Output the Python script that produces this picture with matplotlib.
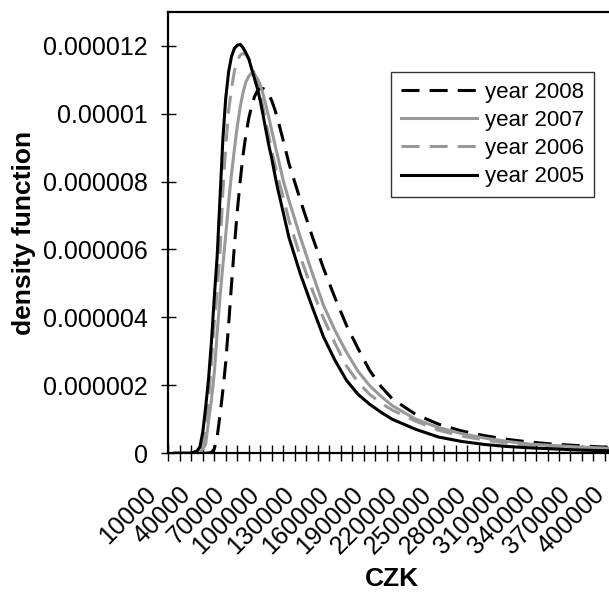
import matplotlib.pyplot as plt
import matplotlib.transforms as mtransforms
import numpy as np

plt.rcParams['font.family'] = ['Liberation Sans', 'DejaVu Sans']

# income (CZK) where the densities were read
czk = [10000, 20000, 25000,
       30000, 32500, 35000, 37500, 40000, 42500, 45000, 47500, 50000, 52500,
       55000, 57500, 60000, 62500, 65000, 67500, 70000, 72500, 75000, 77500,
       80000, 82500, 85000, 87500, 90000, 92500, 95000, 97500, 100000,
       105000, 110000,
       120000, 130000, 140000, 150000, 160000, 170000, 180000, 190000, 200000,
       220000, 240000, 260000, 280000, 300000, 320000, 340000, 360000, 380000,
       400000]

# density values (x 1e-6)
dens_2005 = [0, 0, 0.005,
             0.07, 0.19, 0.63, 1.36, 2.19, 3.27, 4.60, 5.80, 7.54, 9.27,
             10.47, 11.24, 11.68, 11.92, 12.01, 12.04, 11.94, 11.79, 11.61, 11.32,
             11.03, 10.74, 10.38, 9.95, 9.50, 9.06, 8.68, 8.24, 7.82,
             7.09, 6.35,
             5.27, 4.33, 3.43, 2.74, 2.15, 1.74, 1.45, 1.21, 1.00,
             0.71, 0.48, 0.35, 0.26, 0.20, 0.16, 0.13, 0.10, 0.08,
             0.07]
dens_2006 = [0, 0, 0,
             0.02, 0.07, 0.24, 0.69, 1.57, 2.69, 3.85, 4.80, 5.94, 7.74,
             9.06, 10.10, 10.74, 11.25, 11.55, 11.72, 11.77, 11.74, 11.62, 11.42,
             11.15, 10.88, 10.56, 10.17, 9.74, 9.33, 8.91, 8.54, 8.18,
             7.53, 6.86,
             5.77, 4.83, 3.98, 3.24, 2.57, 2.10, 1.74, 1.48, 1.27,
             0.95, 0.68, 0.51, 0.39, 0.30, 0.24, 0.20, 0.17, 0.14,
             0.12]
dens_2007 = [0, 0, 0,
             0.01, 0.04, 0.13, 0.27, 0.95, 1.57, 2.37, 3.54, 4.60, 5.55,
             6.44, 7.40, 8.23, 8.95, 9.62, 10.18, 10.62, 10.93, 11.10, 11.19,
             11.15, 11.03, 10.85, 10.57, 10.23, 9.88, 9.50, 9.13, 8.77,
             8.03, 7.44,
             6.35, 5.33, 4.36, 3.62, 2.98, 2.42, 2.00, 1.68, 1.40,
             1.01, 0.76, 0.58, 0.45, 0.35, 0.27, 0.23, 0.19, 0.16,
             0.13]
dens_2008 = [0, 0, 0,
             0, 0, 0, 0, 0.01, 0.02, 0.13, 0.48, 1.13, 1.86,
             2.69, 3.80, 4.98, 6.10, 7.12, 8.00, 8.77, 9.38, 9.86, 10.22,
             10.50, 10.67, 10.74, 10.74, 10.68, 10.55, 10.38, 10.14, 9.86,
             9.21, 8.53,
             7.44, 6.41, 5.45, 4.58, 3.77, 3.09, 2.45, 1.97, 1.60,
             1.15, 0.86, 0.66, 0.52, 0.41, 0.33, 0.27, 0.23, 0.19,
             0.16]

x_labels = list(range(10000, 400001, 30000))
y_ticks = [0, 0.000002, 0.000004, 0.000006, 0.000008, 0.00001, 0.000012]
y_ticklabels = ['0', '0.000002', '0.000004', '0.000006', '0.000008', '0.00001', '0.000012']

gray = '#999999'

fig = plt.figure(figsize=(6.09, 5.97), dpi=100)
ax = fig.add_axes([0.2764, 0.2407, 0.7547, 0.7397])

x = np.array(czk)
lw = 2.2
ax.plot(x, np.array(dens_2008) * 1e-6, color='black', lw=lw, dashes=(5.9, 3.3), label='year 2008')
ax.plot(x, np.array(dens_2007) * 1e-6, color=gray, lw=lw, label='year 2007')
ax.plot(x, np.array(dens_2006) * 1e-6, color=gray, lw=lw, dashes=(5.9, 3.3), label='year 2006')
ax.plot(x, np.array(dens_2005) * 1e-6, color='black', lw=lw, label='year 2005')

ax.set_xlim(5000, 405000)
ax.set_ylim(0, 0.000013)

for s in ['left', 'bottom', 'top']:
    ax.spines[s].set_linewidth(1.6)
ax.spines['right'].set_visible(False)

ax.set_yticks(y_ticks)
ax.set_yticklabels(y_ticklabels)
ax.tick_params(axis='y', direction='inout', length=10.8, width=1, pad=9.2, labelsize=18)

ax.set_xticks(x_labels)
ax.set_xticklabels([str(v) for v in x_labels], rotation=45, ha='right',
                   rotation_mode='anchor', va='top')
ax.set_xticks(np.arange(5000, 405001, 10000), minor=True)
ax.tick_params(axis='x', which='major', length=0, pad=20.9, labelsize=18)
ax.tick_params(axis='x', which='minor', direction='inout', length=11.5, width=1)
shift = mtransforms.ScaledTranslation(-0.30, 0, fig.dpi_scale_trans)
for lbl in ax.get_xticklabels():
    lbl.set_transform(lbl.get_transform() + shift)

ax.set_xlabel('CZK', fontsize=19, fontweight='bold', va='top')
ax.xaxis.set_label_coords(0.4867, -0.2575)
ax.set_ylabel('density function', fontsize=19, fontweight='bold')
ax.yaxis.set_label_coords(-0.288, 0.5)

leg = ax.legend(loc='upper left', bbox_to_anchor=(391 / 609, 1 - 72 / 597),
                bbox_transform=fig.transFigure, borderaxespad=0, fontsize=16,
                handlelength=3.4, handletextpad=0.4, labelspacing=0.32,
                borderpad=0.45, fancybox=False, framealpha=1)
leg.get_frame().set_edgecolor('#333333')
leg.get_frame().set_linewidth(1)

plt.savefig('out.png', dpi=100)
